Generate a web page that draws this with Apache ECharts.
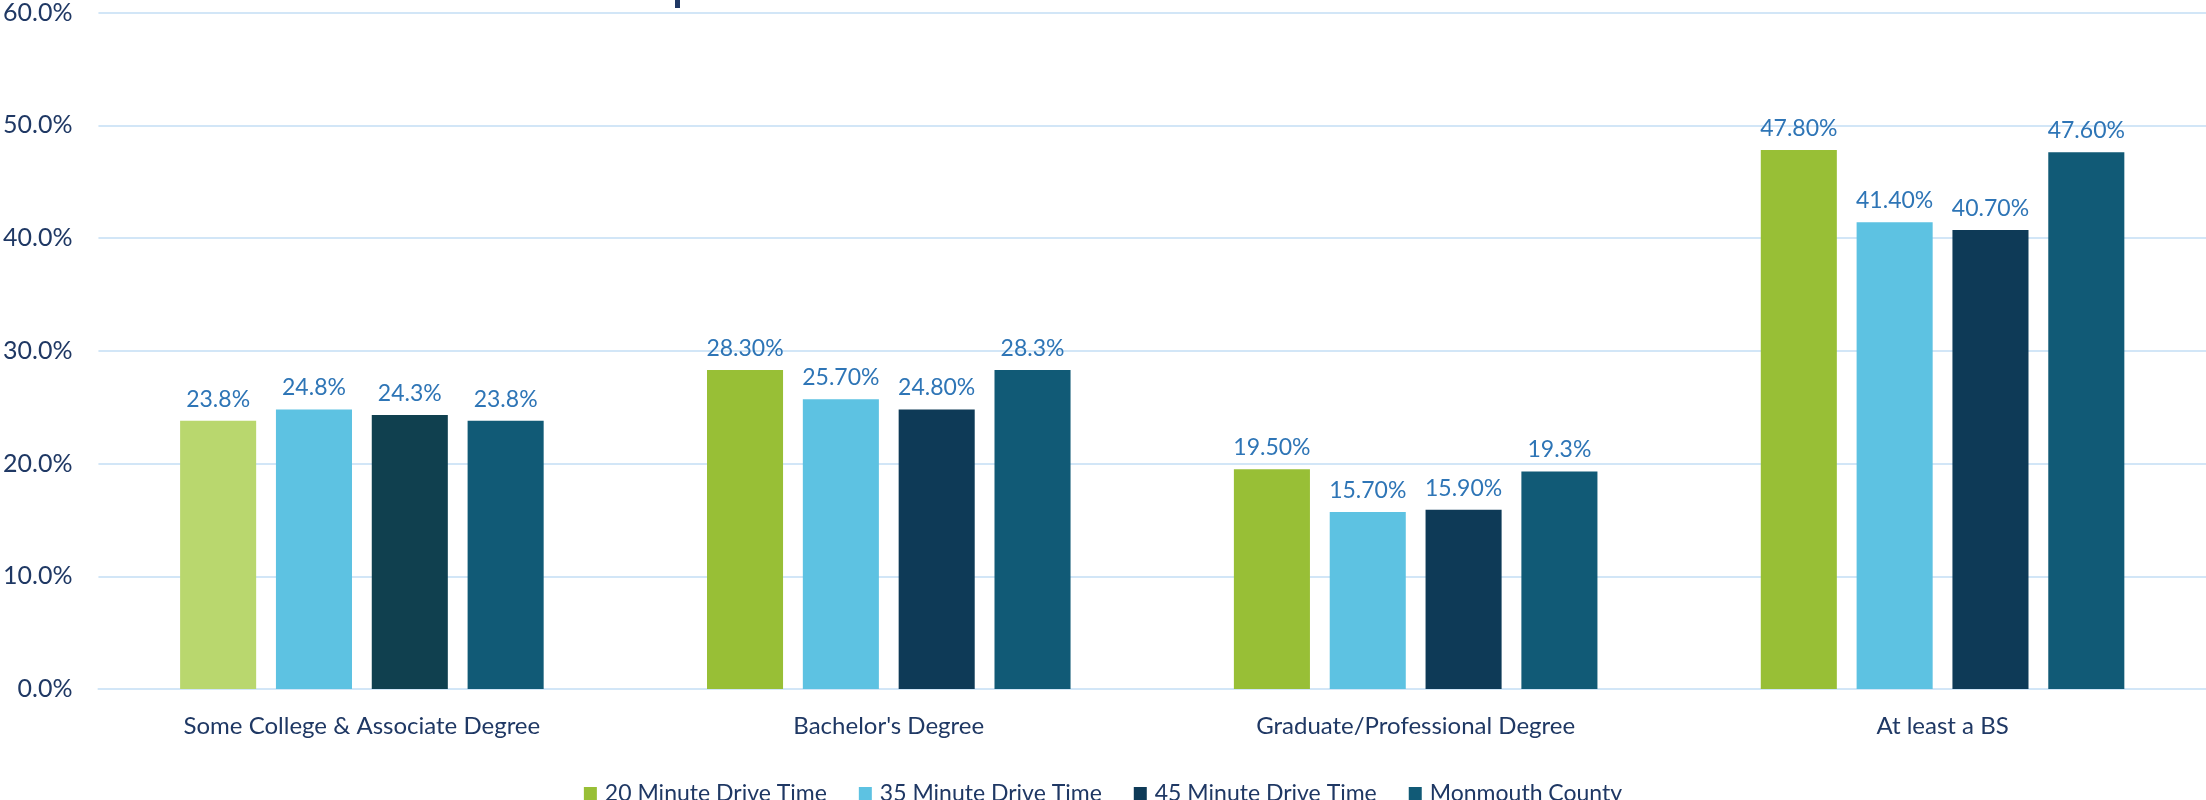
<!DOCTYPE html>
<html>
<head>
<meta charset="utf-8">
<script src="https://cdn.jsdelivr.net/npm/echarts@6/dist/echarts.min.js"></script>
<style>
html,body{margin:0;padding:0;background:#fff;}
#chart{width:2206px;height:800px;}
</style>
</head>
<body>
<div id="chart"></div>
<script>
const categories = ["Some College & Associate Degree", "Bachelor's Degree", "Graduate/Professional Degree", "At least a BS"];
const seriesNames = ["20 Minute Drive Time", "35 Minute Drive Time", "45 Minute Drive Time", "Monmouth County"];
const drive20 = [23.8, 28.3, 19.5, 47.8];
const drive35 = [24.8, 25.7, 15.7, 41.4];
const drive45 = [24.3, 24.8, 15.9, 40.7];
const monmouth = [23.8, 28.3, 19.3, 47.6];
const drive20Labels = ["23.8%", "28.30%", "19.50%", "47.80%"];
const drive35Labels = ["24.8%", "25.70%", "15.70%", "41.40%"];
const drive45Labels = ["24.3%", "24.80%", "15.90%", "40.70%"];
const monmouthLabels = ["23.8%", "28.3%", "19.3%", "47.60%"];
const yTicks = [0, 10, 20, 30, 40, 50, 60];

const FONT = 'Lato';
const AXIS_COLOR = '#1F3864';
const LABEL_COLOR = '#2E75B6';
const colors = ['#98BF36', '#5DC2E2', '#0E3A57', '#115A76'];
const firstColors = ['#B9D76E', '#5DC2E2', '#10404F', '#115A76'];

const allValues = [drive20, drive35, drive45, monmouth];
const allLabels = [drive20Labels, drive35Labels, drive45Labels, monmouthLabels];

const series = seriesNames.map((name, s) => ({
  name: name,
  type: 'bar',
  barGap: '26%',
  barCategoryGap: '31%',
  itemStyle: { color: colors[s] },
  data: allValues[s].map((v, i) => ({
    value: v,
    itemStyle: { color: i === 0 ? firstColors[s] : colors[s] }
  })),
  label: {
    show: true,
    position: 'top',
    distance: 10,
    color: LABEL_COLOR,
    fontFamily: FONT,
    fontSize: 23,
    formatter: p => allLabels[s][p.dataIndex]
  }
}));

const chart = echarts.init(document.getElementById('chart'), null, { renderer: 'canvas' });
chart.setOption({
  animation: false,
  backgroundColor: '#ffffff',
  color: colors,
  grid: { left: 97, right: 0, top: 11, bottom: 111, containLabel: false },
  legend: {
    top: 777,
    left: 'center',
    itemWidth: 13,
    itemHeight: 13,
    itemGap: 32,
    icon: 'rect',
    textStyle: { color: AXIS_COLOR, fontFamily: FONT, fontSize: 23, padding: [0, 0, 0, 3] },
    data: seriesNames
  },
  xAxis: {
    type: 'category',
    data: categories,
    axisLine: { show: true, lineStyle: { color: '#D2E6F7', width: 2 } },
    axisTick: { show: false },
    axisLabel: { color: AXIS_COLOR, fontFamily: FONT, fontSize: 24, margin: 25 }
  },
  yAxis: {
    type: 'value',
    min: yTicks[0],
    max: yTicks[yTicks.length - 1],
    interval: 10,
    axisLine: { show: false },
    axisTick: { show: false },
    splitLine: { lineStyle: { color: '#D2E6F7', width: 2 } },
    axisLabel: { color: AXIS_COLOR, fontFamily: FONT, fontSize: 25, margin: 26,
      formatter: v => v.toFixed(1) + '%' }
  },
  graphic: [{
    type: 'rect', left: 675, top: 0,
    shape: { width: 5, height: 8 },
    style: { fill: '#1F3864' }
  }],
  series: series
});
</script>
</body>
</html>
